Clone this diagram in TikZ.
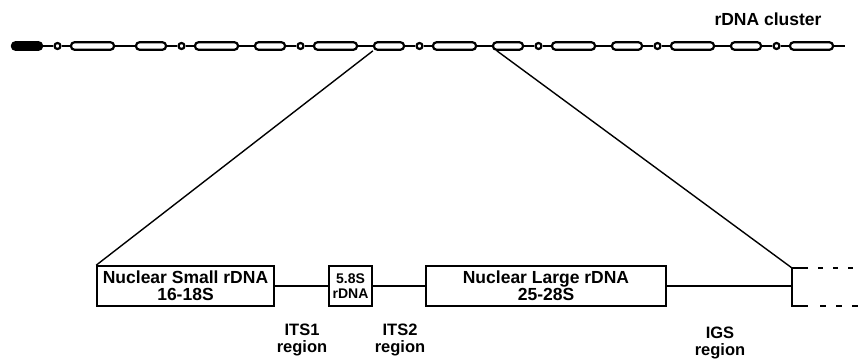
\documentclass[tikz,border=0pt]{standalone}
\usepackage{fontspec}
\setmainfont{Liberation Sans}
\tikzset{
  unitbox/.style={draw,line width=2.2pt,rounded corners=3.5pt,minimum height=7.5pt,inner sep=0pt},
  spacer/.style={draw,circle,line width=2.2pt,fill=white,minimum size=6pt,inner sep=0pt},
  genebox/.style={draw,line width=1.6pt,minimum height=40pt,inner sep=0pt,align=center,font=\bfseries\fontsize{17.5}{17}\selectfont},
  regionlbl/.style={align=center,font=\bfseries\fontsize{16.5}{17}\selectfont}
}
\begin{document}
\begin{tikzpicture}[x=1pt,y=-1pt]
		\useasboundingbox (0,0) rectangle (859,363);
		\foreach \s/\f [count=\k from 0] in {11/black,135/white,254/white,373/white,492/white,611/white,730/white}{
			\node[unitbox,fill=\f,minimum width=30pt] (ssu\k) at (\s+16,46) {};
			\node[spacer] (sp\k) at (\s+46.5,46) {};
			\node[unitbox,fill=white,minimum width=43pt] (lsu\k) at (\s+81.5,46) {};
			\draw[line width=2.2pt] (ssu\k) -- (sp\k) -- (lsu\k);
		}
		\foreach \k [evaluate=\k as \n using int(\k+1)] in {0,...,5}
			\draw[line width=2.2pt] (lsu\k) -- (ssu\n);
		\coordinate (tail) at (845,46);
		\draw[line width=2.2pt] (lsu6) -- (tail);
		\node[font=\bfseries\fontsize{17.5}{17.5}\selectfont] (cluster) at (768,19) {rDNA cluster};
		\node[genebox,minimum width=177pt] (small) at (185.5,286) {Nuclear Small rDNA\\16-18S};
		\node[genebox,minimum width=43pt,font=\bfseries\fontsize{14}{14.5}\selectfont] (five) at (350.5,286) {5.8S\\rDNA};
		\node[genebox,minimum width=240pt] (large) at (546,286) {Nuclear Large rDNA\\25-28S};
		\coordinate (brt) at (792,268);
		\coordinate (brm) at (792,286);
		\coordinate (brb) at (792,306);
		\draw[line width=1.8pt] ([xshift=16pt]brt) -- (brt) -- (brb) -- ([xshift=16pt]brb);
		\draw[line width=1.8pt,dash pattern=on 5pt off 10pt] ([xshift=26pt]brt) -- ++(40,0);
		\draw[line width=1.8pt,dash pattern=on 6pt off 10pt] ([xshift=28pt]brb) -- ++(40,0);
		\draw[line width=1.6pt] (small) -- (five);
		\draw[line width=1.6pt] (five) -- (large);
		\draw[line width=1.6pt] (large.east) -- (brm);
		\draw[line width=1.4pt] (ssu3.south west) -- (small.north west);
		\draw[line width=1.4pt] ([xshift=5pt]ssu4.south west) -- (brt);
		\node[regionlbl] (its1) at (302,340) {ITS1\\region};
		\node[regionlbl] (its2) at (400,340) {ITS2\\region};
		\node[regionlbl] (igs) at (720,343) {IGS\\region};
		\end{tikzpicture}
\end{document}
